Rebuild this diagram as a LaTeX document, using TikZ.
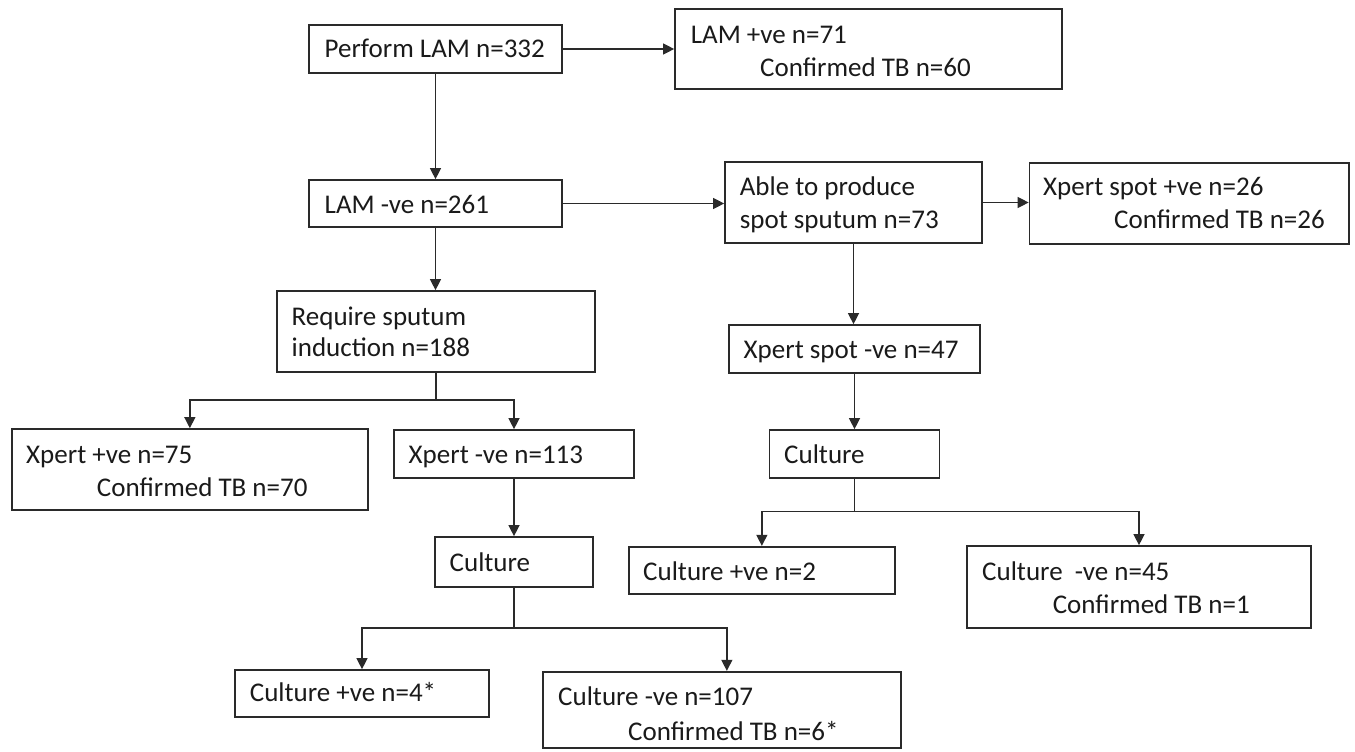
\documentclass[tikz,border=0pt]{standalone}
\usepackage{fontspec}
\setmainfont{Carlito}
\usetikzlibrary{arrows.meta}
\definecolor{ln}{HTML}{2A2A2A}
\definecolor{tx}{HTML}{1A1A1A}
\begin{document}
\begin{tikzpicture}[x=1pt,y=-1pt,
  box/.style={draw=ln, line width=1.7pt, rectangle, inner sep=0pt, fill=white},
  txt/.style={anchor=base west, inner sep=0pt, text=tx, font=\fontsize{27}{33}\selectfont},
  conn/.style={draw=ln, line width=1.3pt, -{Triangle[length=11pt,width=11pt]}},
  plain/.style={draw=ln, line width=1.3pt}]
\useasboundingbox[fill=white] (0,0) rectangle (1355,752);
% boxes
\node[box, minimum width=253pt, minimum height=48pt] (A) at (435.5,49) {};
\node[box, minimum width=387pt, minimum height=80pt] (B) at (868.5,49) {};
\node[box, minimum width=253pt, minimum height=47pt] (C) at (435.5,203.5) {};
\node[box, minimum width=257pt, minimum height=81pt] (D) at (853.5,202.5) {};
\node[box, minimum width=319.5pt, minimum height=81pt] (E) at (1189.25,203.5) {};
\node[box, minimum width=318pt, minimum height=81pt] (F) at (436,331.5) {};
\node[box, minimum width=356.3pt, minimum height=81pt] (G) at (189.85,469.5) {};
\node[box, minimum width=240pt, minimum height=48pt] (H) at (514,454) {};
\node[box, minimum width=251pt, minimum height=48pt] (I) at (854.5,349) {};
\node[box, minimum width=158pt, minimum height=50pt] (J) at (514,562) {};
\node[box, minimum width=170pt, minimum height=48pt] (K) at (854.5,454) {};
\node[box, minimum width=254pt, minimum height=47pt] (L) at (362,693.5) {};
\node[box, minimum width=358.3pt, minimum height=76.3pt] (M) at (721.85,709.85) {};
\node[box, minimum width=265.7pt, minimum height=47.3pt] (N) at (761.85,570.35) {};
\node[box, minimum width=344pt, minimum height=81.7pt] (O) at (1139,586.85) {};
% texts
\node[txt] (tA) at (324.5,57.5) {Perform LAM n=332};
\node[txt] (tB1) at (690.6,43.5) {LAM +ve n=71};
\node[txt] (tB2) at (760,76.5) {Confirmed TB n=60};
\node[txt] (tC) at (324.5,213.5) {LAM -ve n=261};
\node[txt] (tD1) at (739.6,195.2) {Able to produce};
\node[txt] (tD2) at (739.6,228.5) {spot sputum n=73};
\node[txt] (tE1) at (1043,195.2) {Xpert spot +ve n=26};
\node[txt] (tE2) at (1114,228.5) {Confirmed TB n=26};
\node[txt] (tF1) at (291.5,325.2) {Require sputum};
\node[txt] (tF2) at (291.5,356.5) {induction n=188};
\node[txt] (tG1) at (26,463.5) {Xpert +ve n=75};
\node[txt] (tG2) at (96.7,496.5) {Confirmed TB n=70};
\node[txt] (tH) at (408.5,463.5) {Xpert -ve n=113};
\node[txt] (tI) at (743.5,358.5) {Xpert spot -ve n=47};
\node[txt] (tJ) at (449.5,571.5) {Culture};
\node[txt] (tK) at (784,463.5) {Culture};
\node[txt] (tL) at (249.7,701.5) {Culture +ve n=4*};
\node[txt] (tM1) at (558,705.2) {Culture -ve n=107};
\node[txt] (tM2) at (628,740.2) {Confirmed TB n=6*};
\node[txt] (tN) at (643,580.2) {Culture +ve n=2};
\node[txt] (tO1) at (982,580.2) {Culture\ \ -ve n=45};
\node[txt] (tO2) at (1052.6,613.5) {Confirmed TB n=1};
% junctions
\coordinate (fj) at (F.south |- 0,400);
\coordinate (jj) at (J.south |- 0,628);
\coordinate (kj) at (K.south |- 0,511.7);
% connectors
\draw[conn] (A.east) -- (B.west);
\draw[conn] (A.south) -- (C.north);
\draw[conn] (C.east) -- (C.east -| D.west);
\draw[conn] (D.east) -- (D.east -| E.west);
\draw[conn] (D.south) -- (D.south |- I.north);
\draw[conn] (C.south) -- (C.south |- F.north);
\draw[plain] (F.south) -- (fj);
\draw[conn] (fj) -| (G.north);
\draw[conn] (fj) -| (H.north);
\draw[conn] (H.south) -- (H.south |- J.north);
\draw[plain] (J.south) -- (jj);
\draw[conn] (jj) -| (L.north);
\draw[conn] (jj) -| ([xshift=5pt]M.north);
\draw[conn] (I.south) -- (I.south |- K.north);
\draw[plain] (K.south) -- (kj);
\draw[conn] (kj) -| (N.north);
\draw[conn] (kj) -| (O.north);
\end{tikzpicture}
\end{document}
